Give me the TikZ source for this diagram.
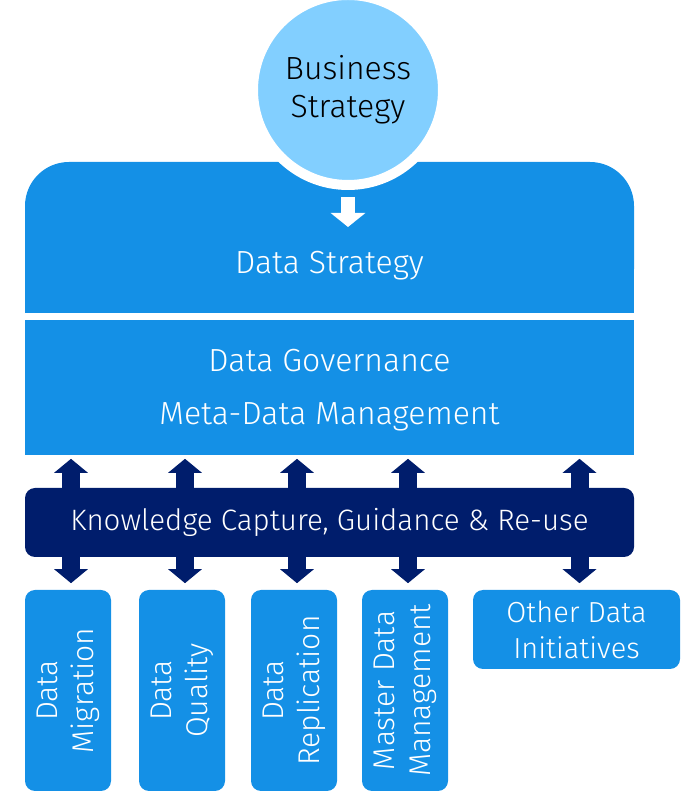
\documentclass[tikz,border=0pt]{standalone}
\usepackage{fontspec}
\setmainfont{Fira Sans}[UprightFont={* Light}]
\usetikzlibrary{arrows.meta,positioning}
\definecolor{stratblue}{HTML}{1490E6}
\definecolor{bizcyan}{HTML}{82CFFF}
\definecolor{knownavy}{HTML}{001D6C}

\begin{document}
\begin{tikzpicture}[x=1pt,y=1pt,
  bluebox/.style={fill=stratblue, text=white, inner sep=0pt},
  band/.style={bluebox, minimum width=609pt},
  bandtext/.style={text=white, font=\fontsize{32}{38}\selectfont},
  initbox/.style={bluebox, rounded corners=10pt, minimum width=201pt, minimum height=86pt, rotate=90, align=center, font=\fontsize{30}{36}\selectfont},
  updown/.style={knownavy, line width=18pt, -{Triangle[width=33pt,length=14pt]}}]
  \useasboundingbox (0,0) rectangle (680,792);

  % Data strategy
  \node[band, rounded corners=44pt, minimum height=151pt] (ds) at (329.5,554.5) {};
  \fill[stratblue] (ds.west) rectangle (ds.south east);
  \node[bandtext] (dstxt) at (329.5,526) {Data Strategy};

  % Governance
  \node[band, minimum height=135pt] (gov) at (329.5,404.5) {};
  \node[bandtext] (govtxt) at (329.5,431) {Data Governance};
  \node[bandtext] (mdtxt) at (329.5,375) {Meta-Data Management};

  % Business strategy
  \node[circle, draw=white, line width=10pt, fill=bizcyan, minimum size=190pt, inner sep=0pt, outer sep=0pt,
    align=center, text=black, font=\fontsize{32}{38}\selectfont] (bs) at (348,702) {Business\\Strategy};
  \draw[white, line width=14pt, -{Triangle[width=34pt,length=14pt]}] ([yshift=-12pt]bs.south) -- ([yshift=-42pt]bs.south);

  % Knowledge
  \node[fill=knownavy, rounded corners=10pt, minimum width=609pt, minimum height=69pt, text=white,
    font=\fontsize{29.5}{36}\selectfont] (kc) at (329.5,269.5) {Knowledge Capture, Guidance \& Re-use};

  % Initiatives
  \node[initbox] (mig) at (68,101.5) {Data\\Migration};
  \node[initbox] (qual) at (182,101.5) {Data\\Quality};
  \node[initbox] (repl) at (294,101.5) {Data\\Replication};
  \node[initbox] (mdm) at (405,101.5) {Master Data\\Management};
  \node[bluebox, rounded corners=10pt, minimum width=207pt, minimum height=79pt, align=center,
    font=\fontsize{29}{36}\selectfont] (oth) at (576.5,162.5) {Other Data\\Initiatives};

  % Links
  \foreach \b in {mig,qual,repl,mdm,oth} {
    \draw[updown] ([xshift=3pt]\b.center |- kc.north) -- +(0,29);
    \draw[updown] ([xshift=3pt]\b.center |- kc.south) -- +(0,-26);
  }
\end{tikzpicture}
\end{document}
